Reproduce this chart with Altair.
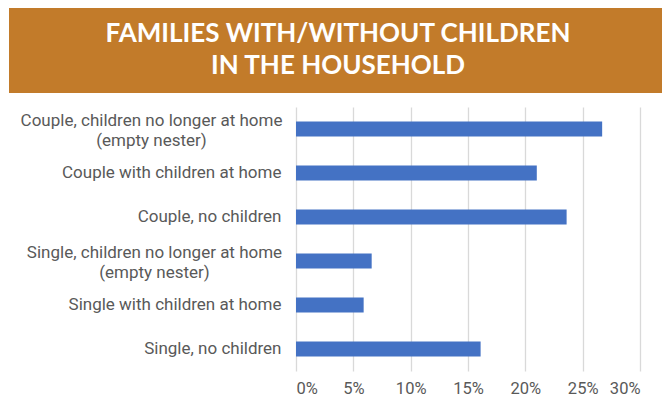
import altair as alt
import pandas as pd

categories = [
    "Couple, children no longer at home|(empty nester)",
    "Couple with children at home",
    "Couple, no children",
    "Single, children no longer at home|(empty nester)",
    "Single with children at home",
    "Single, no children",
]
shares = [26.7, 21.0, 23.6, 6.6, 5.9, 16.1]
x_ticks = [0, 5, 10, 15, 20, 25, 30]
title_text = "FAMILIES WITH/WITHOUT CHILDREN|IN THE HOUSEHOLD"

df = pd.DataFrame({"cat": categories, "share": shares})
title_df = pd.DataFrame({"t": [title_text]})

is_couple2 = "indexof(datum.value, 'Couple, children') === 0"
is_single2 = "indexof(datum.value, 'Single, children') === 0"
is_multi = "indexof(datum.value, '|') >= 0"

bars = alt.Chart(df).mark_bar(color="#4472C4").encode(
    y=alt.Y(
        "cat:N",
        sort=None,
        scale=alt.Scale(paddingInner=0.66, paddingOuter=0.33),
        axis=alt.Axis(
            title=None,
            labelExpr="split(datum.label, '|')",
            labelFont="Roboto",
            labelFontSize=17,
            labelColor="#595959",
            labelAlign={"condition": {"test": is_multi, "value": "center"}, "value": "right"},
            labelPadding={
                "condition": [
                    {"test": is_couple2, "value": 145},
                    {"test": is_single2, "value": 142},
                ],
                "value": 15,
            },
            labelOffset={"condition": {"test": is_multi, "value": -8}, "value": 0},
            labelLimit=320,
            labelLineHeight=20,
            ticks=False,
            domain=False,
            grid=False,
        ),
    ),
    x=alt.X(
        "share:Q",
        scale=alt.Scale(domain=[0, 30], nice=False),
        axis=alt.Axis(
            title=None,
            values=x_ticks,
            labelExpr="datum.value + '%'",
            labelFont="Roboto",
            labelFontSize=16.5,
            labelColor="#595959",
            labelPadding=9,
            ticks=False,
            domain=False,
            grid=True,
            gridColor="#D9D9D9",
            gridWidth=1.3,
        ),
    ),
)

banner = alt.Chart(title_df).mark_rect(color="#C27B2A").encode(
    x=alt.value(-287), x2=alt.value(366), y=alt.value(-101), y2=alt.value(-14)
)

title = alt.Chart(title_df).mark_text(
    font="Lato",
    fontSize=26,
    fontWeight="bold",
    color="white",
    align="center",
    baseline="alphabetic",
    lineBreak="|",
    lineHeight=32,
).encode(text="t:N", x=alt.value(42), y=alt.value(-65))

chart = (
    alt.layer(banner, title, bars)
    .properties(
        width=344,
        height=264,
        padding={"left": 288, "top": 99, "right": 22, "bottom": 28},
        autosize="none",
        background="white",
    )
    .configure_view(stroke=None)
)

chart.save("out.html", embed_options={"renderer": "svg", "actions": False})
